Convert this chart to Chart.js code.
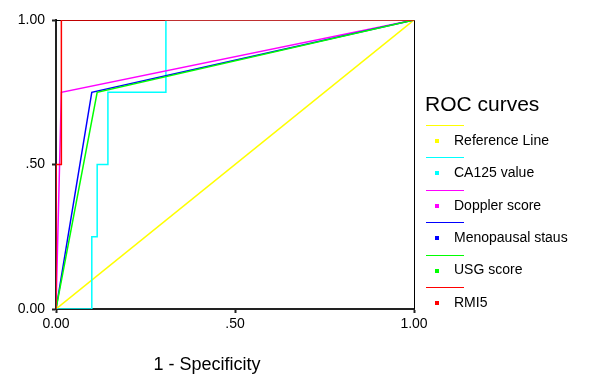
<!DOCTYPE html>
<html>
<head>
<meta charset="utf-8">
<script src="https://cdn.jsdelivr.net/npm/chart.js@4/dist/chart.umd.min.js"></script>
<style>
  html, body { margin: 0; padding: 0; background: #fff; }
  #wrap { width: 590px; height: 374px; }
</style>
</head>
<body>
<div id="wrap"><canvas id="roc" width="590" height="374"></canvas></div>
<script>
/* ROC curves */
var labels = ['Reference Line', 'CA125 value', 'Doppler score', 'Menopausal staus', 'USG score', 'RMI5'];
var colors = ['#ffff00', '#00ffff', '#ff00ff', '#0000ff', '#00ff00', '#ff0000'];

// 1 - specificity / sensitivity
var refFpr = [0, 1];
var refTpr = [0, 1];
var ca125Fpr = [0, 0.1, 0.1, 0.115, 0.115, 0.145, 0.145, 0.307, 0.307, 1];
var ca125Tpr = [0, 0, 0.25, 0.25, 0.5, 0.5, 0.75, 0.75, 1, 1];
var dopplerFpr = [0, 0.015, 1];
var dopplerTpr = [0, 0.75, 1];
var menoFpr = [0, 0.1, 1];
var menoTpr = [0, 0.75, 1];
var usgFpr = [0, 0.115, 1];
var usgTpr = [0, 0.75, 1];
var rmiFpr = [0, 0, 0.015, 0.015, 1];
var rmiTpr = [0, 0.5, 0.5, 1, 1];

var axisTicks = [0, 0.5, 1];
var tickText = ['0.00', '.50', '1.00'];
var xTitle = '1 - Specificity';
var legendTitle = 'ROC curves';

var FONT = "'Liberation Sans', Arial, sans-serif";

function toPoints(xs, ys) {
    var out = [];
    for (var i = 0; i < xs.length; i++) {
        out.push({ x: xs[i], y: ys[i] });
    }
    return out;
}

var series = [
    toPoints(refFpr, refTpr),
    toPoints(ca125Fpr, ca125Tpr),
    toPoints(dopplerFpr, dopplerTpr),
    toPoints(menoFpr, menoTpr),
    toPoints(usgFpr, usgTpr),
    toPoints(rmiFpr, rmiTpr)
];

var datasets = series.map(function(pts, i) {
    return {
        label: labels[i],
        data: pts,
        borderColor: colors[i],
        backgroundColor: colors[i],
        borderWidth: 1.5,
        pointRadius: 0,
        tension: 0,
        fill: false,
        order: labels.length - i   // later series drawn on top
    };
});

function fmtTick(v) {
    var k = axisTicks.indexOf(v);
    return k >= 0 ? tickText[k] : '';
}

// frame, x title and the SPSS style legend
var decor = {
    id: 'decor',
    beforeDatasetsDraw: function(chart) {
        var a = chart.chartArea, ctx = chart.ctx;
        ctx.save();
        ctx.strokeStyle = '#000';
        ctx.lineWidth = 1;
        ctx.beginPath();
        ctx.moveTo(a.left, a.top + 0.5);
        ctx.lineTo(a.right + 0.5, a.top + 0.5);
        ctx.lineTo(a.right + 0.5, a.bottom);
        ctx.stroke();
        ctx.restore();
    },
    afterDraw: function(chart) {
        var ctx = chart.ctx;
        ctx.save();
        ctx.fillStyle = '#000';
        ctx.textBaseline = 'middle';
        ctx.textAlign = 'center';
        ctx.font = '18px ' + FONT;
        ctx.fillText(xTitle, 207, 365);

        ctx.textAlign = 'left';
        ctx.font = '21px ' + FONT;
        ctx.fillText(legendTitle, 425, 105);

        ctx.font = '14px ' + FONT;
        for (var i = 0; i < labels.length; i++) {
            var y = 125 + i * 32.4;
            ctx.strokeStyle = colors[i];
            ctx.lineWidth = 1;
            ctx.beginPath();
            ctx.moveTo(426, Math.round(y) + 0.5);
            ctx.lineTo(464, Math.round(y) + 0.5);
            ctx.stroke();
            ctx.fillStyle = colors[i];
            ctx.fillRect(435, Math.round(y) + 14, 4, 4);
            ctx.fillStyle = '#000';
            ctx.fillText(labels[i], 454, y + 16);
        }
        ctx.restore();
    }
};

var axisStyle = function(fixSize, pad) {
    return {
        type: 'linear',
        min: 0,
        max: 1,
        afterFit: fixSize,
        ticks: {
            stepSize: 0.5,
            color: '#000',
            font: { family: FONT, size: 14 },
            padding: pad,
            callback: function(v) { return fmtTick(v); }
        },
        grid: {
            drawOnChartArea: false,
            drawTicks: true,
            tickLength: 4,
            tickWidth: 2,
            tickColor: '#222'
        },
        border: { display: true, color: '#222', width: 2 }
    };
};

new Chart(document.getElementById('roc'), {
    type: 'line',
    data: { datasets: datasets },
    plugins: [decor],
    options: {
        responsive: false,
        animation: false,
        devicePixelRatio: 1,
        layout: { padding: { top: 20, right: 176, left: 0, bottom: 0 } },
        plugins: {
            legend: { display: false },
            tooltip: { enabled: false }
        },
        scales: {
            x: axisStyle(function(s) { s.height = 65; }, 3),
            y: axisStyle(function(s) { s.width = 56; }, 7)
        }
    }
});
</script>
</body>
</html>
